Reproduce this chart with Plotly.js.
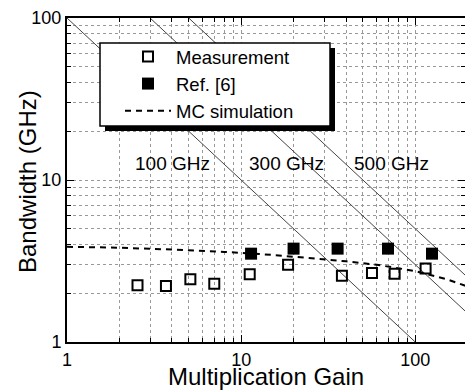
<!DOCTYPE html>
<html><head><meta charset="utf-8">
<script src="https://cdn.plot.ly/plotly-3.0.1.min.js"></script>
<style>html,body{margin:0;padding:0;background:#fff}#c{width:465px;height:392px}</style>
</head><body><div id="c"></div>
<script>
const measGain = [2.54, 3.70, 5.11, 7.01, 11.2, 18.6, 37.9, 56.4, 76.1, 114.6];
const measBW   = [2.24, 2.22, 2.44, 2.29, 2.62, 3.00, 2.56, 2.67, 2.64, 2.84];
const refGain  = [11.4, 20.0, 35.8, 69.7, 124.7];
const refBW    = [3.51, 3.77, 3.77, 3.77, 3.51];
const mcGain   = [1, 2, 4, 8, 15, 25, 40, 60, 100, 150, 200];
const mcBW     = [3.87, 3.82, 3.72, 3.60, 3.45, 3.30, 3.15, 3.00, 2.74, 2.45, 2.20];
const gbpGain  = [1, 200];
const gbpLines = [[100, 0.5], [300, 1.5], [500, 2.5]];
const gbpLabels = ['100 GHz', '300 GHz', '500 GHz'];
const gbpLabelPos = [[0.6075, 1.103], [1.263, 1.103], [1.862, 1.103]];
const xTitle = 'Multiplication Gain';
const yTitle = 'Bandwidth (GHz)';

const FONT = '"Liberation Sans", Arial, sans-serif';
const traces = [];
gbpLines.forEach(bw => traces.push({x: gbpGain, y: bw, mode: 'lines', showlegend: false,
  line: {color: '#444', width: 1}, hoverinfo: 'skip'}));
traces.push({x: measGain, y: measBW, mode: 'markers', name: 'Measurement',
  marker: {symbol: 'square-open', size: 10, color: '#000', line: {width: 2, color: '#000'}}});
traces.push({x: refGain, y: refBW, mode: 'markers', name: 'Ref. [6]',
  marker: {symbol: 'square', size: 12, color: '#000'}});
traces.push({x: mcGain, y: mcBW, mode: 'lines', name: 'MC simulation',
  line: {color: '#000', width: 2, dash: '6px,5px'}});

function ax(range) {
  return {type: 'log', range: range, dtick: 1, tick0: 0,
    ticks: 'inside', ticklen: 7, tickwidth: 1, tickcolor: '#000',
    showline: true, linewidth: 2, linecolor: '#000', mirror: 'ticks',
    showgrid: true, gridcolor: '#999', griddash: 'dot', gridwidth: 1,
    minor: {dtick: 'D1', ticks: 'inside', ticklen: 4, tickcolor: '#000',
      showgrid: true, gridcolor: '#999', griddash: 'dot', gridwidth: 1},
    tickfont: {family: FONT, size: 18, color: '#000'},
    zeroline: false, automargin: false};
}
const xa = ax([0, 2.2854]);
const ya = ax([0, 2]);

const L = 67, T = 18, W = 398, H = 324;
const px = v => (v - L) / W, py = v => (T + H - v) / H;
const layout = {
  width: 465, height: 392, margin: {l: L, r: 0, t: T, b: 50},
  paper_bgcolor: '#fff', plot_bgcolor: '#fff',
  xaxis: xa, yaxis: ya,
  showlegend: true,
  legend: {x: px(100), y: py(38), xanchor: 'left', yanchor: 'top', bgcolor: 'rgba(0,0,0,0)',
    borderwidth: 0, font: {family: FONT, size: 18.5, color: '#000'}, itemwidth: 46, indentation: 20},
  shapes: [
    {type: 'rect', xref: 'paper', yref: 'paper', x0: px(105), x1: px(335), y0: py(131), y1: py(48),
      fillcolor: '#000', line: {width: 0}, layer: 'above'},
    {type: 'rect', xref: 'paper', yref: 'paper', x0: px(100), x1: px(330), y0: py(126), y1: py(43),
      fillcolor: '#fff', line: {width: 1.5, color: '#000'}, layer: 'above'}
  ],
  annotations: gbpLabels.map((t, i) => ({x: gbpLabelPos[i][0], y: gbpLabelPos[i][1], xref: 'x', yref: 'y',
    text: t, showarrow: false, font: {family: FONT, size: 19, color: '#000'}})).concat([
    {x: px(266), y: py(376.5), xref: 'paper', yref: 'paper', xanchor: 'center', yanchor: 'middle',
      text: xTitle, showarrow: false, font: {family: FONT, size: 24, color: '#000'}},
    {x: px(27), y: py(182), xref: 'paper', yref: 'paper', xanchor: 'center', yanchor: 'middle',
      text: yTitle, showarrow: false, textangle: -90, font: {family: FONT, size: 24, color: '#000'}}
  ])
};
Plotly.newPlot('c', traces, layout, {staticPlot: true});
</script></body></html>
